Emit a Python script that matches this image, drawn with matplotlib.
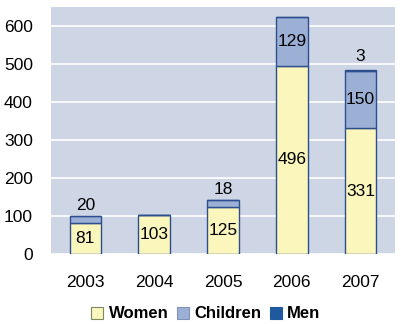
import matplotlib
matplotlib.use("Agg")
import matplotlib.pyplot as plt
import numpy as np
from matplotlib.patches import Patch

years = ["2003", "2004", "2005", "2006", "2007"]
women = [81, 103, 125, 496, 331]
children = [20, 0, 18, 129, 150]
men = [0, 0, 0, 0, 3]
series_names = ["Women", "Children", "Men"]
yticks = [0, 100, 200, 300, 400, 500, 600]

plt.rcParams['font.family'] = ['Liberation Sans', 'DejaVu Sans']

c_women = "#FAF6BC"
c_children = "#9CB0D6"
c_men = "#1F5A9E"
c_edge = "#2D4F8E"
c_panel = "#CED6E6"

fig = plt.figure(figsize=(4.01, 3.24), dpi=100)
ax = fig.add_axes([51/401, 1 - 254/324, 344/401, (254 - 7)/324])
ax.set_facecolor(c_panel)

x = np.arange(len(years))
w = 0.46
women = np.array(women); children = np.array(children); men = np.array(men)
ax.bar(x, women, w, color=c_women, edgecolor=c_edge, linewidth=1, zorder=3)
ax.bar(x, children, w, bottom=women, color=c_children, edgecolor=c_edge, linewidth=1, zorder=3)
ax.bar(x, men, w, bottom=women + children, color=c_men, edgecolor=c_edge, linewidth=1, zorder=3)

fs = 12.5
for i in range(len(years)):
    ax.text(x[i], women[i] / 2, str(women[i]), ha="center", va="center", fontsize=fs, zorder=4)
    top = women[i] + children[i]
    if children[i] > 0:
        if children[i] >= 40:
            ax.text(x[i], women[i] + children[i] / 2, str(children[i]), ha="center", va="center", fontsize=fs, zorder=4)
        else:
            ax.text(x[i], top + 6, str(children[i]), ha="center", va="bottom", fontsize=fs, zorder=4)
    if men[i] > 0:
        ax.text(x[i], top + men[i] + 16, str(men[i]), ha="center", va="bottom", fontsize=fs, zorder=4)

ax.set_xlim(-0.5, len(years) - 0.5)
ax.set_ylim(0, 650)
ax.set_yticks(yticks)
ax.set_yticklabels([str(v) for v in yticks], fontsize=12.5)
ax.set_xticks(x)
ax.set_xticklabels(years, fontsize=12.5)
ax.tick_params(axis="both", length=0)
ax.tick_params(axis="y", pad=13)
ax.tick_params(axis="x", pad=15)
ax.yaxis.grid(True, color="white", linewidth=1.2, zorder=1)
ax.set_axisbelow(True)
for s in ax.spines.values():
    s.set_visible(False)

handles = [Patch(facecolor=c, edgecolor=e, linewidth=0.8) for c, e in
           [(c_women, "#7A8A60"), (c_children, "#7F93B8"), (c_men, c_men)]]
leg = fig.legend(handles, series_names, loc="center", bbox_to_anchor=(206/401, 1 - 314/324),
                 ncol=3, frameon=False, prop={"weight": "bold", "size": 12},
                 handlelength=0.7, handleheight=0.7, handletextpad=0.35, columnspacing=0.5)

fig.savefig("out.png", dpi=100)
